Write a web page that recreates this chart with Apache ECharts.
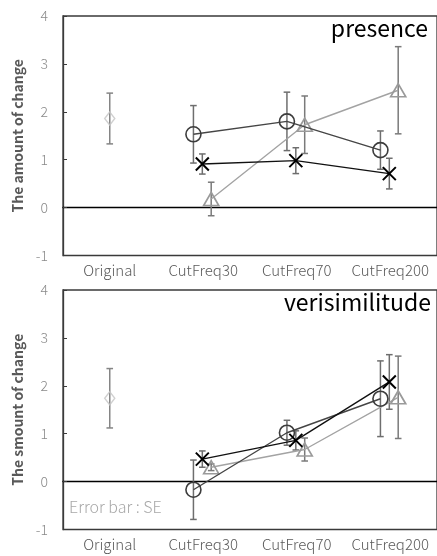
<!DOCTYPE html>
<html>
<head>
<meta charset="utf-8">
<script src="https://cdn.jsdelivr.net/npm/echarts@6/dist/echarts.min.js"></script>
<style>html,body{margin:0;padding:0;background:#fff;}#c{width:437px;height:556px;}</style>
</head>
<body>
<div id="c"></div>
<script>
// ---- data ----
const categories = ['Original', 'CutFreq30', 'CutFreq70', 'CutFreq200'];
const yTickMin = -1, yTickMax = 4, yTickStep = 1;
const panelTitles = ['presence', 'verisimilitude'];
const yTitles = ['The amount of change', 'The smount of change'];
const noteText = 'Error bar : SE';

// presence
const presOriginal = [1.86];
const presOriginalSE = [0.53];
const presCircle = [1.53, 1.80, 1.20];
const presCircleSE = [0.60, 0.61, 0.40];
const presCross = [0.91, 0.98, 0.71];
const presCrossSE = [0.21, 0.27, 0.32];
const presTriangle = [0.18, 1.73, 2.45];
const presTriangleSE = [0.35, 0.60, 0.91];

// verisimilitude
const veriOriginal = [1.74];
const veriOriginalSE = [0.62];
const veriCircle = [-0.17, 1.02, 1.73];
const veriCircleSE = [0.62, 0.26, 0.79];
const veriCross = [0.47, 0.86, 2.08];
const veriCrossSE = [0.17, 0.20, 0.57];
const veriTriangle = [0.30, 0.67, 1.76];
const veriTriangleSE = [0.07, 0.24, 0.86];

// ---- styling / layout ----
const FONT = '"Noto Sans CJK JP", "Noto Sans", sans-serif';
const OFF = { circle: -0.105, cross: -0.01, triangle: 0.085, original: 0 };
const ERR_COLOR = '#6e6e6e';
const crossPath = 'path://M0,0L10,10M10,0L0,10';

function pts(vals, offset, startIdx) {
  return vals.map((v, i) => [startIdx + i + offset, v]);
}
function errPts(vals, se, offset, startIdx) {
  return vals.map((v, i) => [startIdx + i + offset, v, se[i]]);
}
function errSeries(gi, data, color) {
  return {
    type: 'custom', coordinateSystem: 'cartesian2d',
    xAxisIndex: gi * 2 + 1, yAxisIndex: gi, z: 2,
    encode: { x: 0, y: 1 },
    data: data,
    renderItem: function (params, api) {
      const x = api.value(0), m = api.value(1), s = api.value(2);
      const t = api.coord([x, m + s]), b = api.coord([x, m - s]);
      const w = 3.3;
      const st = { stroke: color, lineWidth: 1.5 };
      return { type: 'group', children: [
        { type: 'line', shape: { x1: t[0], y1: t[1], x2: b[0], y2: b[1] }, style: st },
        { type: 'line', shape: { x1: t[0] - w, y1: t[1], x2: t[0] + w, y2: t[1] }, style: st },
        { type: 'line', shape: { x1: b[0] - w, y1: b[1], x2: b[0] + w, y2: b[1] }, style: st }
      ]};
    }
  };
}

const panels = [
  { orig: presOriginal, origSE: presOriginalSE, circ: presCircle, circSE: presCircleSE,
    cross: presCross, crossSE: presCrossSE, tri: presTriangle, triSE: presTriangleSE },
  { orig: veriOriginal, origSE: veriOriginalSE, circ: veriCircle, circSE: veriCircleSE,
    cross: veriCross, crossSE: veriCrossSE, tri: veriTriangle, triSE: veriTriangleSE }
];
const gridTops = [16, 290];
const gridH = 239.5;

const grid = [], xAxis = [], yAxis = [], series = [], title = [];
panels.forEach((p, gi) => {
  grid.push({ left: 63, right: -3, top: gridTops[gi], height: gridH, show: true,
    borderColor: '#3a3a3a', borderWidth: 1.3, backgroundColor: 'transparent', containLabel: false });
  xAxis.push({ type: 'category', gridIndex: gi, data: categories, position: 'bottom',
    boundaryGap: true,
    axisLine: { show: false, onZero: false }, axisTick: { show: false },
    axisLabel: { color: '#5a5a5a', fontSize: 15, fontWeight: 300, margin: 7, fontFamily: FONT, interval: 0 },
    splitLine: { show: false } });
  xAxis.push({ type: 'value', gridIndex: gi, min: -0.5, max: 3.5, position: 'bottom',
    axisLine: { show: true, onZero: true, lineStyle: { color: '#000', width: 1.3 } },
    axisTick: { show: false }, axisLabel: { show: false }, splitLine: { show: false } });
  yAxis.push({ type: 'value', gridIndex: gi, min: yTickMin, max: yTickMax, interval: yTickStep,
    axisLine: { show: true, onZero: false, lineStyle: { color: '#3a3a3a', width: 1.3 } },
    axisTick: { show: true, inside: true, length: 4, lineStyle: { color: '#3a3a3a', width: 1 } },
    axisLabel: { color: '#8a8a8a', fontSize: 14, fontWeight: 300, margin: 15, fontFamily: FONT },
    splitLine: { show: false },
    name: yTitles[gi], nameLocation: 'middle', nameGap: 38,
    nameTextStyle: { color: '#595959', fontSize: 14, fontWeight: 'bold', fontFamily: FONT } });

  title.push({ text: panelTitles[gi], right: gi === 0 ? 9 : 6, top: gridTops[gi] + 1, padding: 0,
    textStyle: { color: '#000', fontSize: 23, fontWeight: 'normal', fontFamily: FONT } });

  const xi = gi * 2 + 1;
  // error bars
  series.push(errSeries(gi, errPts(p.orig, p.origSE, OFF.original, 0), '#858585'));
  series.push(errSeries(gi, errPts(p.circ, p.circSE, OFF.circle, 1), ERR_COLOR));
  series.push(errSeries(gi, errPts(p.cross, p.crossSE, OFF.cross, 1), ERR_COLOR));
  series.push(errSeries(gi, errPts(p.tri, p.triSE, OFF.triangle, 1), '#7a7a7a'));
  // original diamond
  series.push({ type: 'scatter', xAxisIndex: xi, yAxisIndex: gi, z: 3,
    data: pts(p.orig, OFF.original, 0), symbol: 'diamond', symbolSize: [10, 13],
    itemStyle: { color: 'rgba(255,255,255,0)', borderColor: '#c4c4c4', borderWidth: 1.5 } });
  // triangle series
  series.push({ type: 'line', xAxisIndex: xi, yAxisIndex: gi, z: 3,
    data: pts(p.tri, OFF.triangle, 1), symbol: 'triangle', symbolSize: [15, 13],
    lineStyle: { color: '#a3a3a3', width: 1.4 },
    itemStyle: { color: 'rgba(255,255,255,0)', borderColor: '#9a9a9a', borderWidth: 1.7 } });
  // circle series
  series.push({ type: 'line', xAxisIndex: xi, yAxisIndex: gi, z: 4,
    data: pts(p.circ, OFF.circle, 1), symbol: 'circle', symbolSize: 15,
    lineStyle: { color: '#454545', width: 1.4 },
    itemStyle: { color: 'rgba(255,255,255,0)', borderColor: '#3c3c3c', borderWidth: 1.6 } });
  // cross series
  series.push({ type: 'line', xAxisIndex: xi, yAxisIndex: gi, z: 5,
    data: pts(p.cross, OFF.cross, 1), symbol: crossPath, symbolSize: 13,
    lineStyle: { color: '#111', width: 1.4 },
    itemStyle: { color: 'rgba(0,0,0,0)', borderColor: '#000', borderWidth: 2 } });
});

const chart = echarts.init(document.getElementById('c'), null, { renderer: 'canvas' });
chart.setOption({
  animation: false,
  backgroundColor: '#fff',
  title: title,
  grid: grid, xAxis: xAxis, yAxis: yAxis, series: series,
  graphic: [{ type: 'text', left: 69, top: 499,
    style: { text: noteText, fill: '#a8a8a8', fontSize: 16, fontWeight: 300, fontFamily: FONT } }]
});
</script>
</body>
</html>
